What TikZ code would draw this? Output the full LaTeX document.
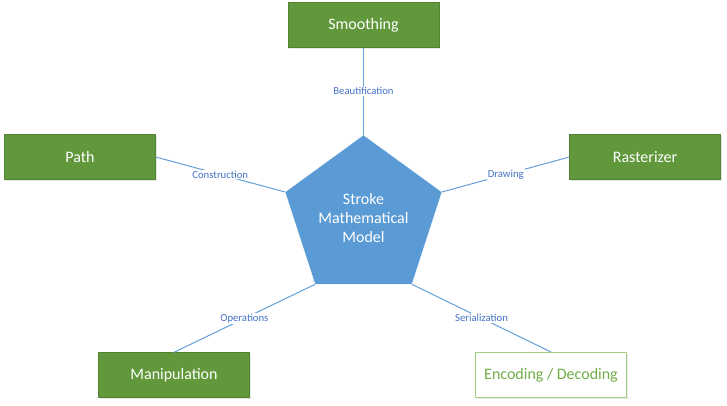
\documentclass[tikz,border=0pt]{standalone}
\usepackage{fontspec}
\setmainfont{Carlito}
\usepackage{tikz}
\usetikzlibrary{shapes.geometric}
\usetikzlibrary{shadows}

\definecolor{boxgreen}{RGB}{97,152,60}
\definecolor{lightgreen}{RGB}{160,208,128}
\definecolor{textgreen}{RGB}{112,173,71}
\definecolor{pentblue}{RGB}{91,155,213}
\definecolor{linkblue}{RGB}{100,160,215}
\definecolor{tagblue}{RGB}{68,114,196}

\begin{document}
\begin{tikzpicture}[x=1pt,y=-1pt,
    block/.style={rectangle, fill=boxgreen, draw=boxgreen!85!black, minimum width=151pt, minimum height=45pt,
      text=white, font=\fontsize{16}{19}\selectfont,
      drop shadow={opacity=0.18, shadow xshift=1pt, shadow yshift=-1.5pt}},
    link/.style={draw=linkblue, line width=1pt},
    tag/.style={fill=white, text=tagblue, font=\fontsize{10.7}{12}\selectfont, inner sep=1pt}]
        \useasboundingbox (0,0) rectangle (727,406);

        % centre
        \node[regular polygon, regular polygon sides=5, minimum size=165pt, inner sep=0pt,
          fill=pentblue, draw=white, text=white, align=center,
          font=\fontsize{16}{19}\selectfont] (model) at (363.5,217.5) {Stroke\\Mathematical\\Model};

        % satellites
        \node[block] (smooth) at (363.5,25) {Smoothing};
        \node[block] (path) at (80,157) {Path};
        \node[block] (raster) at (645,157) {Rasterizer};
        \node[block] (manip) at (174,375) {Manipulation};
        \node[block, fill=white, draw=lightgreen, line width=1pt, text=textgreen] (codec) at (551,375) {Encoding / Decoding};

        \draw[link] (smooth.south) -- node[tag]{Beautification} (model.corner 1);
        \draw[link] (path.east) -- node[tag]{Construction} (model.corner 2);
        \draw[link] (raster.west) -- node[tag]{Drawing} (model.corner 5);
        \draw[link] (manip.north) -- node[tag]{Operations} (model.corner 3);
        \draw[link] (codec.north) -- node[tag]{Serialization} (model.corner 4);
      \end{tikzpicture}
\end{document}
